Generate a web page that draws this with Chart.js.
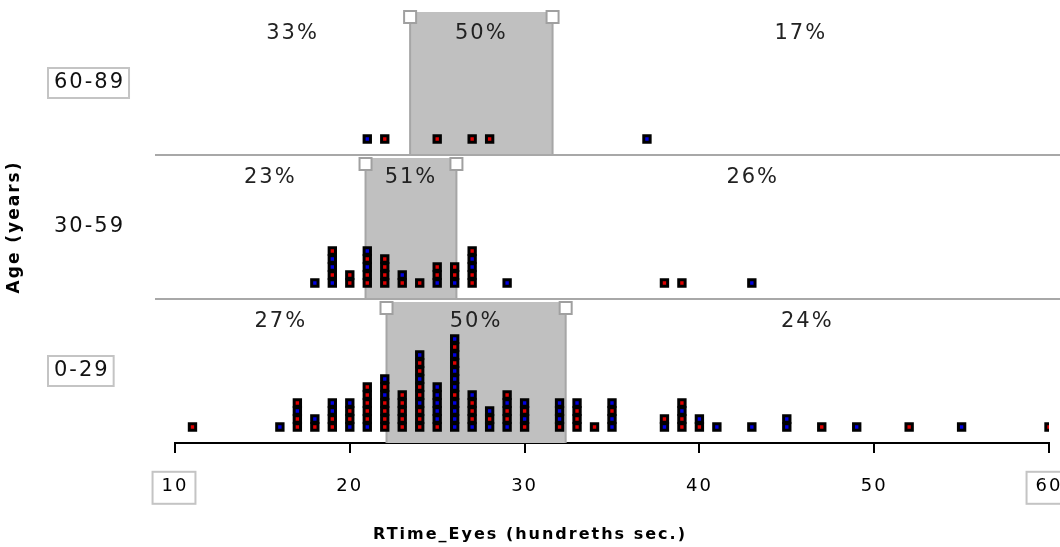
<!DOCTYPE html>
<html>
<head>
<meta charset="utf-8">
<script src="https://cdn.jsdelivr.net/npm/chart.js@4/dist/chart.umd.min.js"></script>
<style>
  html, body { margin: 0; padding: 0; background: #fff; }
</style>
</head>
<body>
<canvas id="chart" width="1060" height="547"></canvas>
<script>
// age groups, top panel first
var ageGroups = ["60-89", "30-59", "0-29"];

// one entry per person, each stack listed bottom to top; R / B = dot colour group
var rtOld = [21, 22, 25, 27, 28, 37];
var grpOld = "B R R R R B";

var rtMid = [18, 19, 19, 19, 19, 19, 20, 20, 21, 21, 21, 21, 21, 22, 22, 22, 22,
             23, 23, 24, 25, 25, 25, 26, 26, 26, 27, 27, 27, 27, 27, 29, 38, 39, 43];
var grpMid = "B BRBBR RR RRBRB RRRR RB R BRR BRR RRBBR B R R B";

var rtYoung = [11, 16, 17, 17, 17, 17, 18, 18, 19, 19, 19, 19, 20, 20, 20, 20,
               21, 21, 21, 21, 21, 21, 22, 22, 22, 22, 22, 22, 22, 23, 23, 23, 23, 23,
               24, 24, 24, 24, 24, 24, 24, 24, 24, 24, 25, 25, 25, 25, 25, 25,
               26, 26, 26, 26, 26, 26, 26, 26, 26, 26, 26, 26, 27, 27, 27, 27, 27,
               28, 28, 28, 29, 29, 29, 29, 29, 30, 30, 30, 30, 32, 32, 32, 32,
               33, 33, 33, 33, 34, 35, 35, 35, 35, 38, 38, 39, 39, 39, 39, 40, 40,
               41, 43, 45, 45, 47, 49, 52, 55, 60];
var grpYoung = "R B RRBR RB RRBB BRRB BRRRRR RRRRBRB RRRRR RRRBRRBRRB RBBBBB BBBBRBBBRBRB " +
               "BRRRB BRB BRRBR RBRB RBBB RRRB R BBRB BR RRBR RB B B BB R B R B R";

// shaded middle-half ranges and percentages
var boxLow = [23.45, 20.9, 22.1];
var boxHigh = [31.6, 26.1, 32.35];
var pctLow = [33, 23, 27];
var pctMid = [50, 51, 50];
var pctHigh = [17, 26, 24];

var xTicks = [10, 20, 30, 40, 50, 60];

var PANEL = 18;   // y units per panel
var BASE = 2;     // gap under the first dot of a stack
var FONT = "DejaVu Sans";
var SPACING = "2px";

var panels = [
    {vals: rtOld, grp: grpOld.replace(/ /g, "")},
    {vals: rtMid, grp: grpMid.replace(/ /g, "")},
    {vals: rtYoung, grp: grpYoung.replace(/ /g, "")}
];

function stackPoints(want) {
    var pts = [];
    panels.forEach(function (p, i) {
        var count = {};
        p.vals.forEach(function (v, j) {
            var k = count[v] || 0;
            count[v] = k + 1;
            if (p.grp[j] === want) pts.push({x: v, y: (2 - i) * PANEL + BASE + k});
        });
    });
    return pts;
}

var decor = {
    id: "decor",
    beforeUpdate: function (chart) { chart.ctx.letterSpacing = SPACING; },
    beforeDraw: function (chart) { chart.ctx.letterSpacing = SPACING; },
    beforeDatasetsDraw: function (chart) {
        var ctx = chart.ctx, x = chart.scales.x, y = chart.scales.y;
        ctx.save();
        ageGroups.forEach(function (g, i) {
            var top = y.getPixelForValue((3 - i) * PANEL);
            var bottom = y.getPixelForValue((2 - i) * PANEL);
            var t = i === 0 ? top + 1 : top + 3;
            var x0 = x.getPixelForValue(boxLow[i]);
            var x1 = x.getPixelForValue(boxHigh[i]);
            ctx.fillStyle = "#c0c0c0";
            ctx.fillRect(x0, t, x1 - x0, bottom - t);
            ctx.strokeStyle = "#a6a6a6";
            ctx.lineWidth = 2;
            ctx.beginPath();
            ctx.moveTo(x0, t); ctx.lineTo(x0, bottom);
            ctx.moveTo(x1, t); ctx.lineTo(x1, bottom);
            ctx.stroke();
        });
        // panel dividers
        ctx.strokeStyle = "#a8a8a8";
        ctx.lineWidth = 2;
        [1, 2].forEach(function (k) {
            var py = y.getPixelForValue(k * PANEL);
            ctx.beginPath();
            ctx.moveTo(chart.chartArea.left - 20, py);
            ctx.lineTo(chart.width, py);
            ctx.stroke();
        });
        ctx.restore();
    },
    afterDatasetsDraw: function (chart) {
        var ctx = chart.ctx, x = chart.scales.x, y = chart.scales.y, cat = chart.scales.yCat;
        ctx.save();
        ctx.letterSpacing = SPACING;
        ageGroups.forEach(function (g, i) {
            var top = y.getPixelForValue((3 - i) * PANEL);
            var x0 = x.getPixelForValue(boxLow[i]);
            var x1 = x.getPixelForValue(boxHigh[i]);
            var ht = i === 0 ? top : top + 3;
            // handles
            ctx.fillStyle = "#fff";
            ctx.strokeStyle = "#a0a0a0";
            ctx.lineWidth = 2;
            [x0, x1].forEach(function (px) {
                ctx.fillRect(px - 6, ht, 12, 12);
                ctx.strokeRect(px - 6, ht, 12, 12);
            });
            // percentages
            ctx.fillStyle = "#222";
            ctx.font = "21px " + FONT;
            ctx.textAlign = "center";
            ctx.textBaseline = "middle";
            var ly = top + 23;
            ctx.fillText(pctLow[i] + "%", (x.left + x0) / 2, ly);
            ctx.fillText(pctMid[i] + "%", (x0 + x1) / 2, ly);
            ctx.fillText(pctHigh[i] + "%", (x1 + x.right) / 2, ly);
        });
        // boxed category labels
        ctx.strokeStyle = "#c4c4c4";
        ctx.lineWidth = 2;
        ctx.font = "21px " + FONT;
        [0, 2].forEach(function (i) {
            var w = ctx.measureText(ageGroups[i]).width;
            var cy = cat.getPixelForTick(i);
            ctx.strokeRect(cat.left - 6, cy - 15, w + 10, 30);
        });
        // boxed end tick labels
        ctx.font = "18px " + FONT;
        var ty = x.top + 10 + 24 + 10.8;
        [xTicks[0], xTicks[xTicks.length - 1]].forEach(function (v) {
            var px = x.getPixelForValue(v);
            var w = ctx.measureText(String(v)).width;
            ctx.strokeRect(px - w / 2 - 9, ty - 16, w + 16, 32);
        });
        ctx.restore();
    }
};

var TITLE_H = 19.2 + 9 + 3;

var chart = new Chart(document.getElementById("chart"), {
    type: "scatter",
    data: {
        datasets: [
            {label: "R", data: stackPoints("R"), backgroundColor: "#e00000"},
            {label: "B", data: stackPoints("B"), backgroundColor: "#0000e0"}
        ]
    },
    options: {
        responsive: false,
        animation: false,
        layout: {padding: {top: 11, left: 0, right: 0, bottom: 0}},
        elements: {
            point: {pointStyle: "rect", radius: 4.5, borderWidth: 3, borderColor: "#000", hoverRadius: 4.5}
        },
        plugins: {
            legend: {display: false},
            tooltip: {enabled: false},
            title: {
                display: true,
                position: "bottom",
                text: "RTime_Eyes (hundreths sec.)",
                color: "#000",
                padding: {top: 9, bottom: 3},
                font: {family: FONT, size: 16, weight: "bold"}
            }
        },
        scales: {
            x: {
                type: "linear",
                min: 10,
                max: 60,
                afterBuildTicks: function (s) { s.ticks = xTicks.map(function (v) { return {value: v}; }); },
                afterFit: function (s) { s.height = 547 - 443 - TITLE_H; s.paddingLeft = 0; s.paddingRight = 11; },
                grid: {drawOnChartArea: false, drawTicks: true, tickLength: 10, color: "#000", lineWidth: 2},
                border: {color: "#000", width: 2},
                ticks: {color: "#000", padding: 23, maxRotation: 0, font: {family: FONT, size: 18}}
            },
            y: {
                type: "linear",
                position: "left",
                weight: 10,
                min: 0,
                max: 3 * PANEL,
                afterFit: function (s) { s.width = 54; s.paddingTop = 0; s.paddingBottom = 0; },
                grid: {display: false},
                border: {display: false},
                ticks: {display: false},
                title: {
                    display: true,
                    text: "Age (years)",
                    color: "#000",
                    padding: {top: 4, bottom: 0},
                    font: {family: FONT, size: 17, weight: "bold"}
                }
            },
            yCat: {
                type: "category",
                axis: "y",
                position: "left",
                weight: 1,
                labels: ageGroups,
                offset: true,
                afterFit: function (s) { s.width = 121; s.paddingTop = 0; s.paddingBottom = 0; },
                grid: {display: false},
                border: {display: false},
                ticks: {crossAlign: "far", color: "#111", font: {family: FONT, size: 21}}
            }
        }
    },
    plugins: [decor]
});
</script>
</body>
</html>
